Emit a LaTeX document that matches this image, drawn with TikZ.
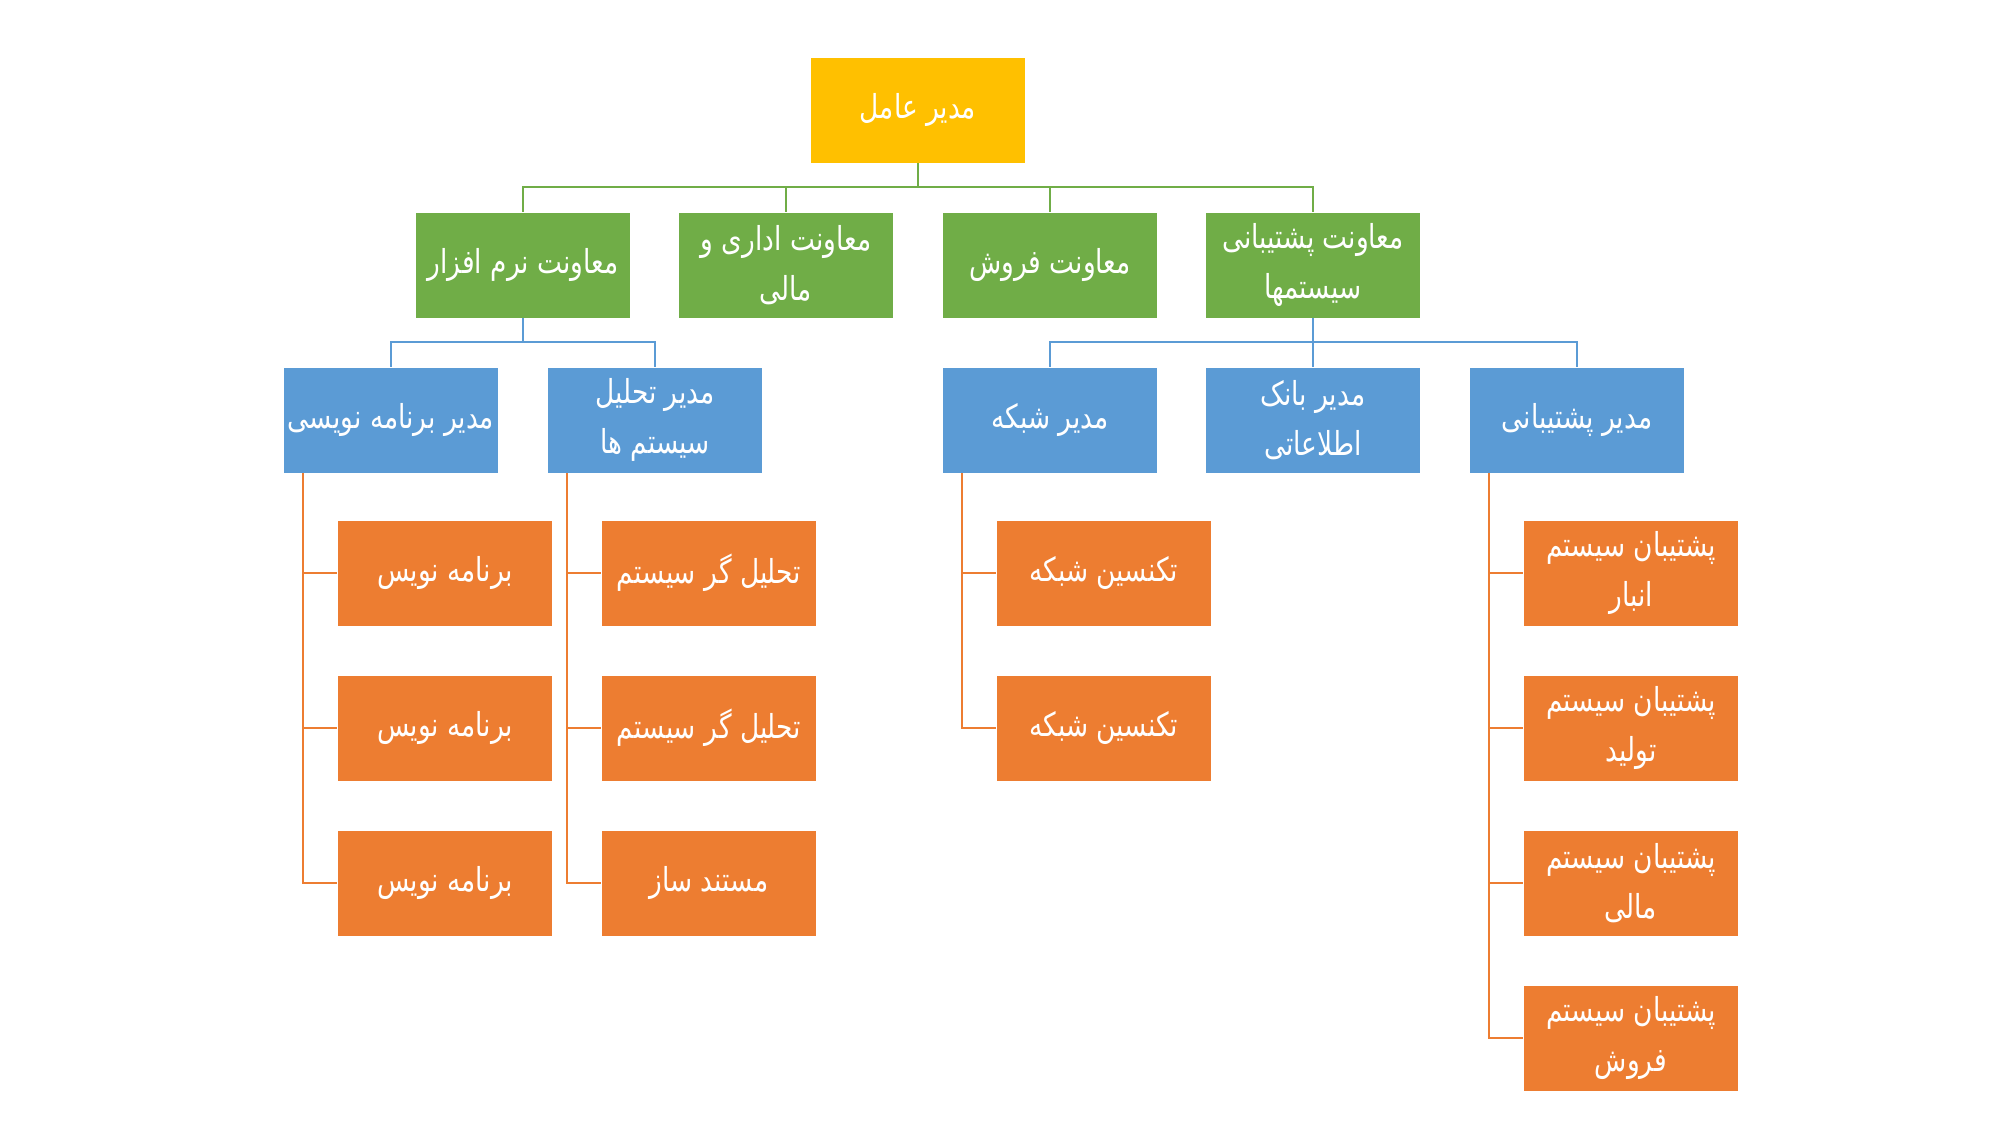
\documentclass[tikz,border=0pt]{standalone}
\usepackage{fontspec}
\newfontfamily\fa[Script=Arabic,FakeStretch=0.8]{DejaVu Sans}
\TeXXeTstate=1
\definecolor{oyellow}{HTML}{FFC000}
\definecolor{ogreen}{HTML}{70AD47}
\definecolor{oblue}{HTML}{5B9BD5}
\definecolor{oorange}{HTML}{ED7D31}
\newcommand{\myR}[1]{\beginR #1\endR}
\tikzset{
  box/.style={rectangle, minimum width=215pt, minimum height=106pt, inner sep=2pt,
    text=white, align=center, font=\fa\fontsize{33}{50}\selectfont,
    draw=white, line width=0.8pt},
  ybox/.style={box, fill=oyellow},
  gbox/.style={box, fill=ogreen},
  bbox/.style={box, fill=oblue},
  obox/.style={box, fill=oorange},
  gline/.style={draw=ogreen, line width=2pt},
  bline/.style={draw=oblue, line width=2pt},
  oline/.style={draw=oorange, line width=2pt},
}
\begin{document}
\begin{tikzpicture}[x=1pt,y=-1pt]
\useasboundingbox (0,0) rectangle (2000,1125);
% level 1
\node[ybox] (ceo) at (918,110) {\myR{مدیر عامل}};
% level 2
\node[gbox] (v1) at (523,265) {\myR{معاونت نرم افزار}};
\node[gbox] (v2) at (786,265) {\myR{معاونت اداری و}\\\myR{مالی}};
\node[gbox] (v3) at (1050,265) {\myR{معاونت فروش}};
\node[gbox] (v4) at (1313,265) {\myR{معاونت پشتیبانی}\\\myR{سیستمها}};
% level 3
\node[bbox] (m1) at (391,420) {\myR{مدیر برنامه نویسی}};
\node[bbox] (m2) at (655,420) {\myR{مدیر تحلیل}\\\myR{سیستم ها}};
\node[bbox] (m3) at (1050,420) {\myR{مدیر شبکه}};
\node[bbox] (m4) at (1313,420) {\myR{مدیر بانک}\\\myR{اطلاعاتی}};
\node[bbox] (m5) at (1577,420) {\myR{مدیر پشتیبانی}};
% level 4
\node[obox] (a1) at (445,573) {\myR{برنامه نویس}};
\node[obox] (a2) at (445,728) {\myR{برنامه نویس}};
\node[obox] (a3) at (445,883) {\myR{برنامه نویس}};
\node[obox] (b1) at (709,573) {\myR{تحلیل گر سیستم}};
\node[obox] (b2) at (709,728) {\myR{تحلیل گر سیستم}};
\node[obox] (b3) at (709,883) {\myR{مستند ساز}};
\node[obox] (c1) at (1104,573) {\myR{تکنسین شبکه}};
\node[obox] (c2) at (1104,728) {\myR{تکنسین شبکه}};
\node[obox] (d1) at (1631,573) {\myR{پشتیبان سیستم}\\\myR{انبار}};
\node[obox] (d2) at (1631,728) {\myR{پشتیبان سیستم}\\\myR{تولید}};
\node[obox] (d3) at (1631,883) {\myR{پشتیبان سیستم}\\\myR{مالی}};
\node[obox] (d4) at (1631,1038) {\myR{پشتیبان سیستم}\\\myR{فروش}};
% green connectors
\foreach \t in {v1,v2,v3,v4}
  \draw[gline] (ceo.south) -- ++(0,24) -| (\t.north);
% blue connectors
\foreach \t in {m1,m2}
  \draw[bline] (v1.south) -- ++(0,24) -| (\t.north);
\foreach \t in {m3,m4,m5}
  \draw[bline] (v4.south) -- ++(0,24) -| (\t.north);
% orange connectors
\foreach \t in {a1,a2,a3}
  \draw[oline] ([xshift=20pt]m1.south west) |- (\t.west);
\foreach \t in {b1,b2,b3}
  \draw[oline] ([xshift=20pt]m2.south west) |- (\t.west);
\foreach \t in {c1,c2}
  \draw[oline] ([xshift=20pt]m3.south west) |- (\t.west);
\foreach \t in {d1,d2,d3,d4}
  \draw[oline] ([xshift=20pt]m5.south west) |- (\t.west);
\end{tikzpicture}
\end{document}
